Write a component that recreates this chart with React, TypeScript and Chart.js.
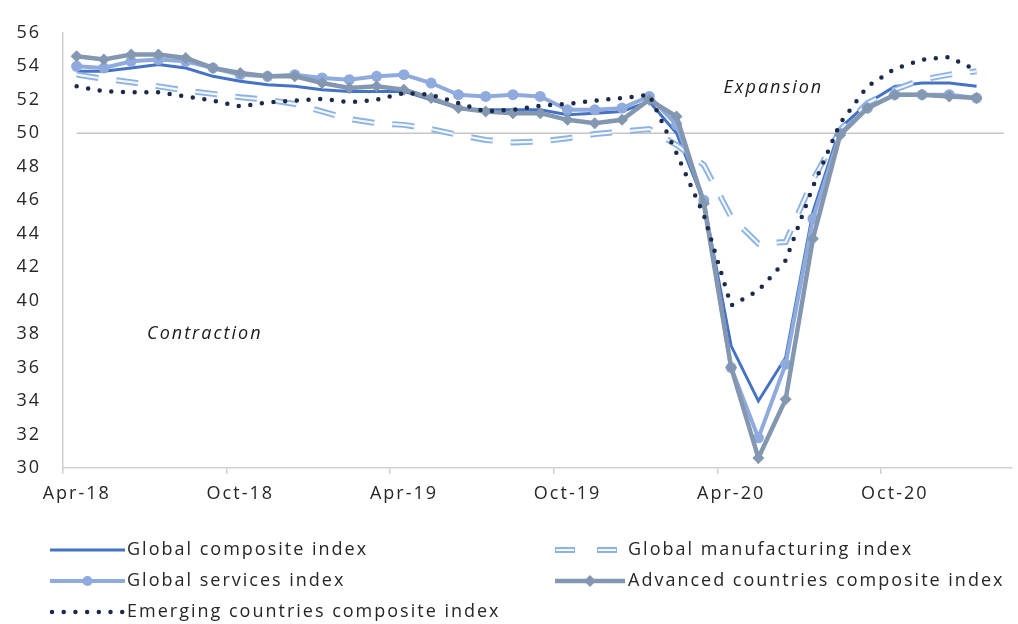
import { useEffect, useRef } from "react";
import { Chart, registerables } from "chart.js";

Chart.register(...registerables);

// ---- data -------------------------------------------------------------
const months = [
  "Apr-18", "May-18", "Jun-18", "Jul-18", "Aug-18", "Sep-18", "Oct-18", "Nov-18", "Dec-18",
  "Jan-19", "Feb-19", "Mar-19", "Apr-19", "May-19", "Jun-19", "Jul-19", "Aug-19", "Sep-19",
  "Oct-19", "Nov-19", "Dec-19", "Jan-20", "Feb-20", "Mar-20", "Apr-20", "May-20", "Jun-20",
  "Jul-20", "Aug-20", "Sep-20", "Oct-20", "Nov-20", "Dec-20", "Jan-21",
];

const axisLabels = ["Apr-18", "Oct-18", "Apr-19", "Oct-19", "Apr-20", "Oct-20"];

const yMin = 30;
const yMax = 56;
const yStep = 2;
const threshold = 50;

const globalComposite = [
  53.7, 53.7, 53.9, 54.1, 53.9, 53.4, 53.1, 52.9, 52.8, 52.6, 52.5, 52.5, 52.5, 52.0, 51.5, 51.4, 51.4,
  51.4, 51.1, 51.2, 51.3, 51.9, 50.0, 45.9, 37.3, 34.0, 36.6, 45.3, 50.3, 51.8, 52.8, 53.0, 53.0, 52.8,
];

const globalManufacturing = [
  53.5, 53.25, 53.05, 52.8, 52.55, 52.35, 52.15, 52.0, 51.75, 51.3, 50.85, 50.6, 50.5, 50.25, 49.9, 49.6, 49.45,
  49.5, 49.7, 49.95, 50.1, 50.25, 49.3, 48.1, 45.0, 43.4, 43.5, 47.2, 50.2, 51.8, 52.6, 53.2, 53.5, 53.7,
];

const globalServices = [
  54.0, 53.9, 54.3, 54.4, 54.3, 53.9, 53.5, 53.4, 53.5, 53.3, 53.2, 53.4, 53.5, 53.0, 52.3, 52.2, 52.3,
  52.2, 51.4, 51.4, 51.5, 52.2, 50.5, 46.0, 36.0, 31.8, 36.2, 44.9, 50.0, 51.5, 52.3, 52.3, 52.3, 52.1,
];

const advancedComposite = [
  54.6, 54.4, 54.7, 54.7, 54.5, 53.9, 53.6, 53.4, 53.4, 53.0, 52.7, 52.8, 52.6, 52.1, 51.5, 51.3, 51.2,
  51.2, 50.8, 50.6, 50.8, 52.0, 51.0, 45.8, 36.0, 30.6, 34.1, 43.7, 49.9, 51.5, 52.3, 52.3, 52.2, 52.1,
];

const emergingComposite = [
  52.8, 52.5, 52.45, 52.45, 52.2, 51.95, 51.6, 51.85, 51.95, 52.05, 51.85, 52.0, 52.4, 52.3, 51.8, 51.3, 51.4,
  51.65, 51.75, 51.95, 52.1, 52.3, 48.8, 45.1, 39.7, 40.6, 42.4, 46.8, 50.6, 52.8, 53.85, 54.4, 54.55, 53.75,
];

// ---- styling ----------------------------------------------------------
const FONT = '"Open Sans", "DejaVu Sans", sans-serif';
const TEXT_SPACING = "2px";
const TEXT_COLOR = "#262626";
const AXIS_COLOR = "#d0d0d0";

const COMPOSITE_COLOR = "#4472C4";
const MANUF_OUTER = "#8DB3E2";
const MANUF_INNER = "#F3F7FD";
const SERVICES_COLOR = "#8FAADC";
const ADVANCED_COLOR = "#8497B0";
const EMERGING_COLOR = "#1C2A4A";
const MANUF_DASH = [22, 18];
const EMERGING_DOTS = [0, 11.7];

const toPoints = (values: number[]) => values.map((y, i) => ({ x: i, y }));

const setSpacing = (ctx: CanvasRenderingContext2D) => {
  (ctx as any).letterSpacing = TEXT_SPACING;
};

// wider Excel-like text spacing for every label Chart.js measures and draws
const textSpacingPlugin = {
  id: "textSpacing",
  beforeUpdate(chart: Chart) {
    setSpacing(chart.ctx);
  },
  beforeDraw(chart: Chart) {
    setSpacing(chart.ctx);
  },
};

// "Expansion" / "Contraction" captions, placed in data coordinates
const zoneCaptions = [
  { text: "Expansion", x: 25.55, y: 52.7 },
  { text: "Contraction", x: 4.7, y: 38.0 },
];

const zoneCaptionPlugin = {
  id: "zoneCaptions",
  afterDatasetsDraw(chart: Chart) {
    const { ctx } = chart;
    const xs = chart.scales.x;
    const ys = chart.scales.y;
    ctx.save();
    setSpacing(ctx);
    ctx.font = `italic 18px ${FONT}`;
    ctx.fillStyle = "#1a1a1a";
    ctx.textAlign = "center";
    ctx.textBaseline = "middle";
    zoneCaptions.forEach((c) => {
      ctx.fillText(c.text, xs.getPixelForValue(c.x), ys.getPixelForValue(c.y));
    });
    ctx.restore();
  },
};

// two-column legend below the axis
type LegendKind = "solid" | "double-dash" | "circle" | "diamond" | "dots";
const legendEntries: { label: string; kind: LegendKind; col: number; row: number }[] = [
  { label: "Global composite index", kind: "solid", col: 0, row: 0 },
  { label: "Global manufacturing index", kind: "double-dash", col: 1, row: 0 },
  { label: "Global services index", kind: "circle", col: 0, row: 1 },
  { label: "Advanced countries composite index", kind: "diamond", col: 1, row: 1 },
  { label: "Emerging countries composite index", kind: "dots", col: 0, row: 2 },
];
const legendColX = [50, 555];
const legendSampleW = [75, 70];
const legendTextX = [127, 628];
const legendRowY = [550, 581, 612];

function strokeSeg(ctx: CanvasRenderingContext2D, x0: number, x1: number, y: number, color: string, w: number, dash: number[] = [], cap: CanvasLineCap = "butt") {
  ctx.beginPath();
  ctx.setLineDash(dash);
  ctx.lineCap = cap;
  ctx.strokeStyle = color;
  ctx.lineWidth = w;
  ctx.moveTo(x0, y);
  ctx.lineTo(x1, y);
  ctx.stroke();
  ctx.setLineDash([]);
}

function drawSample(ctx: CanvasRenderingContext2D, kind: LegendKind, x0: number, x1: number, y: number) {
  const mid = (x0 + x1) / 2;
  if (kind === "solid") {
    strokeSeg(ctx, x0, x1, y, COMPOSITE_COLOR, 3);
  } else if (kind === "double-dash") {
    strokeSeg(ctx, x0, x1, y, MANUF_OUTER, 6, [20, 22]);
    strokeSeg(ctx, x0 + 1, x1, y, MANUF_INNER, 2.2, [18, 24]);
  } else if (kind === "circle") {
    strokeSeg(ctx, x0, x1, y, SERVICES_COLOR, 4);
    ctx.beginPath();
    ctx.fillStyle = SERVICES_COLOR;
    ctx.arc(mid, y, 5, 0, Math.PI * 2);
    ctx.fill();
  } else if (kind === "diamond") {
    strokeSeg(ctx, x0, x1, y, ADVANCED_COLOR, 4.5);
    ctx.beginPath();
    ctx.fillStyle = ADVANCED_COLOR;
    ctx.moveTo(mid, y - 6);
    ctx.lineTo(mid + 6, y);
    ctx.lineTo(mid, y + 6);
    ctx.lineTo(mid - 6, y);
    ctx.closePath();
    ctx.fill();
  } else {
    strokeSeg(ctx, x0 + 2, x1, y, EMERGING_COLOR, 4.5, EMERGING_DOTS, "round");
  }
}

const legendPlugin = {
  id: "bottomLegend",
  afterDraw(chart: Chart) {
    const { ctx } = chart;
    ctx.save();
    legendEntries.forEach((e) => {
      const y = legendRowY[e.row];
      const x0 = legendColX[e.col];
      drawSample(ctx, e.kind, x0, x0 + legendSampleW[e.col], y);
      setSpacing(ctx);
      ctx.font = `18px ${FONT}`;
      ctx.fillStyle = TEXT_COLOR;
      ctx.textAlign = "left";
      ctx.textBaseline = "middle";
      ctx.fillText(e.label, legendTextX[e.col], y);
    });
    ctx.restore();
  },
};

export default function App() {
  const canvasRef = useRef<HTMLCanvasElement | null>(null);

  useEffect(() => {
    const canvas = canvasRef.current;
    if (!canvas) return;

    const line = (extra: Record<string, unknown>) => ({
      pointRadius: 0,
      pointHoverRadius: 0,
      tension: 0,
      fill: false,
      ...extra,
    });

    const chart = new Chart(canvas, {
      type: "line",
      data: {
        datasets: [
          line({
            label: "50",
            data: [
              { x: 0, y: threshold },
              { x: months.length, y: threshold },
            ],
            borderColor: "#c6c6c6",
            borderWidth: 1.5,
            order: 10,
          }),
          line({
            label: "Global composite index",
            data: toPoints(globalComposite),
            borderColor: COMPOSITE_COLOR,
            borderWidth: 3,
            order: 7,
          }),
          line({
            label: "Global manufacturing index",
            data: toPoints(globalManufacturing),
            borderColor: MANUF_OUTER,
            borderWidth: 6,
            borderDash: MANUF_DASH,
            order: 6,
          }),
          line({
            label: "Global manufacturing index (inner)",
            data: toPoints(globalManufacturing),
            borderColor: MANUF_INNER,
            borderWidth: 2.2,
            borderDash: MANUF_DASH,
            order: 5,
          }),
          line({
            label: "Global services index",
            data: toPoints(globalServices),
            borderColor: SERVICES_COLOR,
            backgroundColor: SERVICES_COLOR,
            borderWidth: 4,
            pointRadius: 5.5,
            pointStyle: "circle",
            pointBorderWidth: 0,
            order: 4,
          }),
          line({
            label: "Advanced countries composite index",
            data: toPoints(advancedComposite),
            borderColor: ADVANCED_COLOR,
            backgroundColor: ADVANCED_COLOR,
            borderWidth: 4.5,
            pointRadius: 6,
            pointStyle: "rectRot",
            pointBorderWidth: 0,
            order: 3,
          }),
          line({
            label: "Emerging countries composite index",
            data: toPoints(emergingComposite),
            borderColor: EMERGING_COLOR,
            borderWidth: 4.5,
            borderDash: EMERGING_DOTS,
            borderCapStyle: "round",
            order: 2,
          }),
        ],
      },
      options: {
        responsive: true,
        maintainAspectRatio: false,
        animation: false,
        events: [],
        layout: { padding: { top: 25, right: 0, bottom: 0, left: 0 } },
        plugins: {
          legend: { display: false },
          tooltip: { enabled: false },
        },
        scales: {
          x: {
            type: "linear",
            min: -0.5,
            max: 34.3,
            afterBuildTicks: (scale: any) => {
              scale.ticks = axisLabels.map((m) => ({ value: months.indexOf(m) - 0.5 }));
            },
            afterFit: (scale: any) => {
              scale.height = 156;
            },
            ticks: {
              autoSkip: false,
              maxRotation: 0,
              labelOffset: 13.7,
              padding: 9,
              color: TEXT_COLOR,
              font: { family: FONT, size: 18 },
              callback: (v: any) => months[Math.round(Number(v) + 0.5)] ?? "",
            },
            grid: {
              display: true,
              drawOnChartArea: false,
              drawTicks: true,
              tickLength: 6,
              color: AXIS_COLOR,
              lineWidth: 1.5,
            },
            border: { display: true, color: AXIS_COLOR, width: 1.5 },
          },
          y: {
            min: yMin,
            max: yMax,
            afterFit: (scale: any) => {
              scale.width = 63;
            },
            ticks: {
              stepSize: yStep,
              padding: 22,
              color: TEXT_COLOR,
              font: { family: FONT, size: 18 },
            },
            grid: { display: false, drawTicks: false },
            border: { display: true, color: AXIS_COLOR, width: 1.5 },
          },
        },
      },
      plugins: [textSpacingPlugin, zoneCaptionPlugin, legendPlugin],
    } as any);

    return () => chart.destroy();
  }, []);

  return (
    <div style={{ position: "absolute", left: 0, top: 0, width: 1018, height: 624, background: "#fff" }}>
      <canvas ref={canvasRef} style={{ display: "block" }} />
    </div>
  );
}
